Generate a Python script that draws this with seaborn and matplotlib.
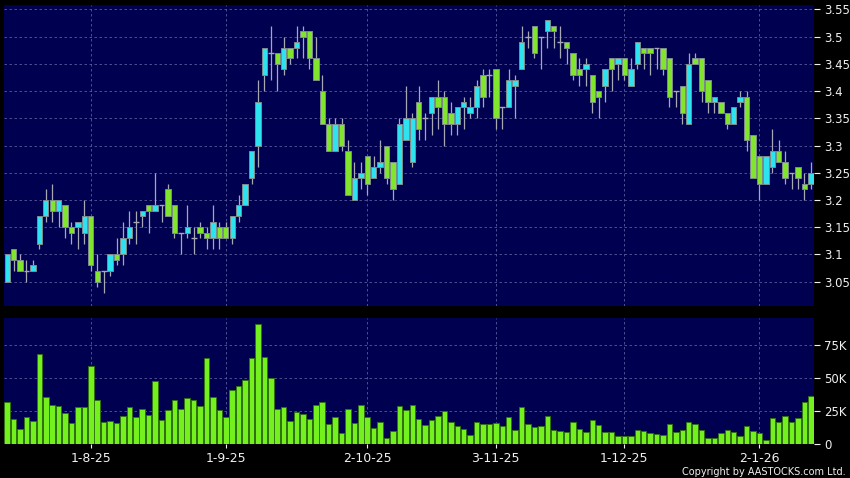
import numpy as np
import pandas as pd
import matplotlib
matplotlib.use("Agg")
import matplotlib.pyplot as plt
import seaborn as sns
from matplotlib.ticker import FuncFormatter

# ---------------- data ----------------
opens = [3.05, 3.11, 3.09, 3.07, 3.07, 3.12, 3.17, 3.20, 3.18, 3.19,
         3.15, 3.15, 3.14, 3.17, 3.07, 3.07, 3.07, 3.10, 3.10, 3.13,
         3.16, 3.17, 3.19, 3.18, 3.19, 3.22, 3.19, 3.14, 3.14, 3.13,
         3.15, 3.14, 3.13, 3.15, 3.15, 3.13, 3.17, 3.19, 3.24, 3.30,
         3.43, 3.47, 3.47, 3.44, 3.48, 3.48, 3.51, 3.51, 3.46, 3.40,
         3.34, 3.29, 3.34, 3.29, 3.20, 3.24, 3.28, 3.24, 3.26, 3.30,
         3.27, 3.23, 3.31, 3.27, 3.38, 3.35, 3.36, 3.39, 3.39, 3.36,
         3.34, 3.37, 3.36, 3.37, 3.43, 3.43, 3.44, 3.37, 3.37, 3.41,
         3.44, 3.50, 3.52, 3.50, 3.51, 3.52, 3.49, 3.49, 3.47, 3.44,
         3.44, 3.43, 3.40, 3.41, 3.46, 3.45, 3.46, 3.41, 3.45, 3.48,
         3.48, 3.48, 3.48, 3.46, 3.40, 3.41, 3.34, 3.46, 3.46, 3.42,
         3.38, 3.38, 3.36, 3.34, 3.38, 3.39, 3.32, 3.28, 3.23, 3.26,
         3.29, 3.27, 3.25, 3.26, 3.23, 3.23]
highs = [3.10, 3.11, 3.10, 3.09, 3.09, 3.17, 3.22, 3.23, 3.20, 3.19,
         3.16, 3.16, 3.20, 3.17, 3.10, 3.07, 3.10, 3.13, 3.16, 3.18,
         3.18, 3.18, 3.19, 3.25, 3.19, 3.23, 3.19, 3.14, 3.19, 3.15,
         3.16, 3.15, 3.19, 3.16, 3.16, 3.17, 3.21, 3.23, 3.29, 3.42,
         3.48, 3.52, 3.47, 3.50, 3.48, 3.52, 3.52, 3.51, 3.50, 3.43,
         3.35, 3.35, 3.35, 3.31, 3.27, 3.27, 3.28, 3.28, 3.31, 3.30,
         3.27, 3.35, 3.41, 3.36, 3.41, 3.36, 3.39, 3.42, 3.40, 3.38,
         3.37, 3.39, 3.39, 3.42, 3.44, 3.44, 3.44, 3.37, 3.44, 3.43,
         3.52, 3.51, 3.52, 3.50, 3.53, 3.52, 3.52, 3.49, 3.47, 3.46,
         3.46, 3.43, 3.40, 3.44, 3.46, 3.46, 3.46, 3.46, 3.49, 3.48,
         3.48, 3.48, 3.48, 3.46, 3.40, 3.41, 3.47, 3.47, 3.46, 3.42,
         3.39, 3.38, 3.36, 3.37, 3.40, 3.40, 3.32, 3.28, 3.28, 3.33,
         3.31, 3.29, 3.25, 3.26, 3.25, 3.27]
lows = [3.05, 3.07, 3.07, 3.05, 3.07, 3.11, 3.16, 3.16, 3.15, 3.13,
        3.12, 3.11, 3.12, 3.07, 3.04, 3.03, 3.06, 3.08, 3.08, 3.12,
        3.12, 3.15, 3.14, 3.18, 3.16, 3.17, 3.13, 3.10, 3.13, 3.10,
        3.13, 3.11, 3.11, 3.11, 3.13, 3.12, 3.16, 3.19, 3.23, 3.26,
        3.40, 3.42, 3.40, 3.43, 3.45, 3.46, 3.46, 3.44, 3.42, 3.34,
        3.29, 3.29, 3.29, 3.21, 3.20, 3.22, 3.21, 3.24, 3.25, 3.23,
        3.20, 3.23, 3.31, 3.26, 3.31, 3.31, 3.32, 3.33, 3.30, 3.32,
        3.32, 3.33, 3.35, 3.35, 3.37, 3.39, 3.33, 3.33, 3.37, 3.35,
        3.44, 3.48, 3.46, 3.44, 3.48, 3.48, 3.46, 3.45, 3.42, 3.41,
        3.41, 3.36, 3.35, 3.38, 3.40, 3.42, 3.42, 3.41, 3.44, 3.44,
        3.43, 3.44, 3.43, 3.37, 3.37, 3.34, 3.34, 3.45, 3.38, 3.36,
        3.36, 3.36, 3.33, 3.34, 3.37, 3.29, 3.24, 3.20, 3.23, 3.25,
        3.27, 3.23, 3.22, 3.22, 3.20, 3.22]
closes = [3.10, 3.09, 3.07, 3.07, 3.08, 3.17, 3.20, 3.18, 3.20, 3.15,
          3.14, 3.16, 3.17, 3.08, 3.05, 3.07, 3.10, 3.09, 3.13, 3.15,
          3.16, 3.18, 3.18, 3.19, 3.19, 3.17, 3.14, 3.14, 3.15, 3.13,
          3.14, 3.13, 3.16, 3.13, 3.13, 3.17, 3.19, 3.23, 3.29, 3.38,
          3.48, 3.47, 3.45, 3.48, 3.46, 3.49, 3.50, 3.46, 3.42, 3.34,
          3.29, 3.34, 3.30, 3.21, 3.24, 3.25, 3.23, 3.26, 3.27, 3.24,
          3.22, 3.34, 3.35, 3.35, 3.33, 3.35, 3.39, 3.37, 3.34, 3.34,
          3.37, 3.38, 3.37, 3.41, 3.39, 3.43, 3.35, 3.37, 3.42, 3.42,
          3.49, 3.50, 3.47, 3.50, 3.53, 3.51, 3.49, 3.48, 3.43, 3.43,
          3.45, 3.38, 3.39, 3.44, 3.44, 3.46, 3.43, 3.44, 3.49, 3.47,
          3.47, 3.48, 3.44, 3.39, 3.40, 3.36, 3.45, 3.45, 3.40, 3.38,
          3.39, 3.36, 3.34, 3.37, 3.39, 3.31, 3.24, 3.23, 3.28, 3.29,
          3.27, 3.24, 3.25, 3.24, 3.22, 3.25]
volumes_k = [31.3, 19.1, 11.4, 20.1, 17.0, 68.1, 35.6, 29.5, 28.5, 23.6,
             15.5, 27.7, 27.7, 58.7, 33.3, 16.8, 17.3, 15.8, 21.4, 28.0,
             20.6, 26.2, 22.1, 47.3, 17.8, 25.4, 33.3, 26.4, 34.3, 32.8,
             28.5, 64.8, 35.6, 25.4, 20.1, 40.7, 43.7, 48.1, 64.6, 90.5,
             65.6, 50.1, 26.7, 27.7, 17.3, 24.4, 22.4, 19.1, 29.7, 32.0,
             15.3, 20.1, 7.9, 26.4, 15.5, 29.2, 20.6, 11.7, 16.5, 4.6,
             9.7, 28.7, 25.4, 29.2, 19.1, 14.2, 17.8, 20.8, 24.9, 16.5,
             13.5, 11.2, 6.9, 16.5, 15.3, 14.7, 15.8, 13.7, 20.6, 10.2,
             28.0, 15.0, 12.5, 13.2, 20.8, 10.2, 9.7, 9.2, 16.3, 10.9,
             8.9, 18.1, 14.0, 9.2, 8.6, 6.1, 6.1, 5.8, 10.4, 9.7,
             7.9, 7.4, 6.6, 15.0, 8.6, 10.4, 16.3, 15.3, 10.4, 4.6,
             4.6, 8.1, 10.2, 9.2, 5.8, 13.7, 9.9, 7.9, 3.1, 19.6,
             16.3, 20.8, 16.8, 19.3, 32.0, 36.4]
date_tick_index = [13, 34, 56, 76, 96, 117]
date_tick_labels = ["1-8-25", "1-9-25", "2-10-25", "3-11-25", "1-12-25", "2-1-26"]
price_ticks = [3.05, 3.10, 3.15, 3.20, 3.25, 3.30, 3.35, 3.40, 3.45, 3.50, 3.55]
volume_ticks = [0, 25000, 50000, 75000]
volume_tick_labels = ["0", "25K", "50K", "75K"]

# ---------------- styling ----------------
BG = "#000000"
PANEL = "#000050"
GRID = "#5a5a9c"
UP = "#2EE3F0"
DOWN = "#80E52C"
WICK = "#a8a8b4"
BODY_EDGE = "#7d8c8c"
VOL = "#74F01E"
VOL_EDGE = "#2f7010"
TXT = "#f0f0f0"

sns.set_theme(style="dark")
plt.rcParams["font.family"] = ["DejaVu Sans"]

df = pd.DataFrame({"open": opens, "high": highs, "low": lows,
                   "close": closes, "volume": np.array(volumes_k) * 1000})
df["idx"] = np.arange(len(df))

fig = plt.figure(figsize=(8.5, 4.78), dpi=100, facecolor=BG)
ax = fig.add_axes([0.0047, 0.3598, 0.953, 0.6297])
axv = fig.add_axes([0.0047, 0.0711, 0.953, 0.2636])

for a in (ax, axv):
    a.set_facecolor(PANEL)
    for s in a.spines.values():
        s.set_visible(False)
    a.grid(True, color=GRID, linestyle=(0, (3, 3)), linewidth=0.6)
    a.set_axisbelow(True)
    a.set_xlim(-0.5, len(df) - 0.5)
    a.yaxis.tick_right()
    a.tick_params(axis="y", colors=TXT, labelsize=8.5, length=4, width=0.8,
                  direction="out", pad=3, right=True, left=False)
    a.set_xticks(date_tick_index)

# ---------------- candles ----------------
up = df[df.close > df.open]
dn = df[df.close < df.open]
dj = df[df.close == df.open]
ax.vlines(df.idx, df.low, df.high, color=WICK, linewidth=0.9, zorder=2)
ax.bar(up.idx, up.close - up.open, bottom=up.open, width=0.84, color=UP,
       edgecolor=BODY_EDGE, linewidth=0.7, zorder=3)
ax.bar(dn.idx, dn.open - dn.close, bottom=dn.close, width=0.84, color=DOWN,
       edgecolor=BODY_EDGE, linewidth=0.7, zorder=3)
ax.hlines(dj.open, dj.idx - 0.45, dj.idx + 0.45, color=WICK, linewidth=1.0, zorder=3)

ax.set_ylim(3.0053, 3.5582)
ax.set_yticks(price_ticks)
ax.yaxis.set_major_formatter(FuncFormatter(lambda v, p: f"{v:g}"))
ax.tick_params(axis="x", length=0, labelbottom=False)
ax.set_xlabel("")
ax.set_ylabel("")

# ---------------- volume ----------------
sns.barplot(data=df, x="idx", y="volume", native_scale=True, color=VOL,
            saturation=1, width=0.85, edgecolor=VOL_EDGE, linewidth=0.6,
            errorbar=None, ax=axv, zorder=3)
axv.set_xlim(-0.5, len(df) - 0.5)
axv.set_ylim(-150, 95200)
axv.set_yticks(volume_ticks)
axv.set_yticklabels(volume_tick_labels)
axv.set_xticks(date_tick_index)
axv.set_xticklabels(date_tick_labels)
axv.tick_params(axis="x", colors=TXT, labelsize=9, length=3, width=0.8,
                direction="out", pad=3, bottom=True)
axv.set_xlabel("")
axv.set_ylabel("")

fig.text(0.995, 0.013, "Copyright by AASTOCKS.com Ltd.", ha="right",
         va="center", color=TXT, fontsize=7)

fig.savefig("out.png", dpi=100, facecolor=BG)
